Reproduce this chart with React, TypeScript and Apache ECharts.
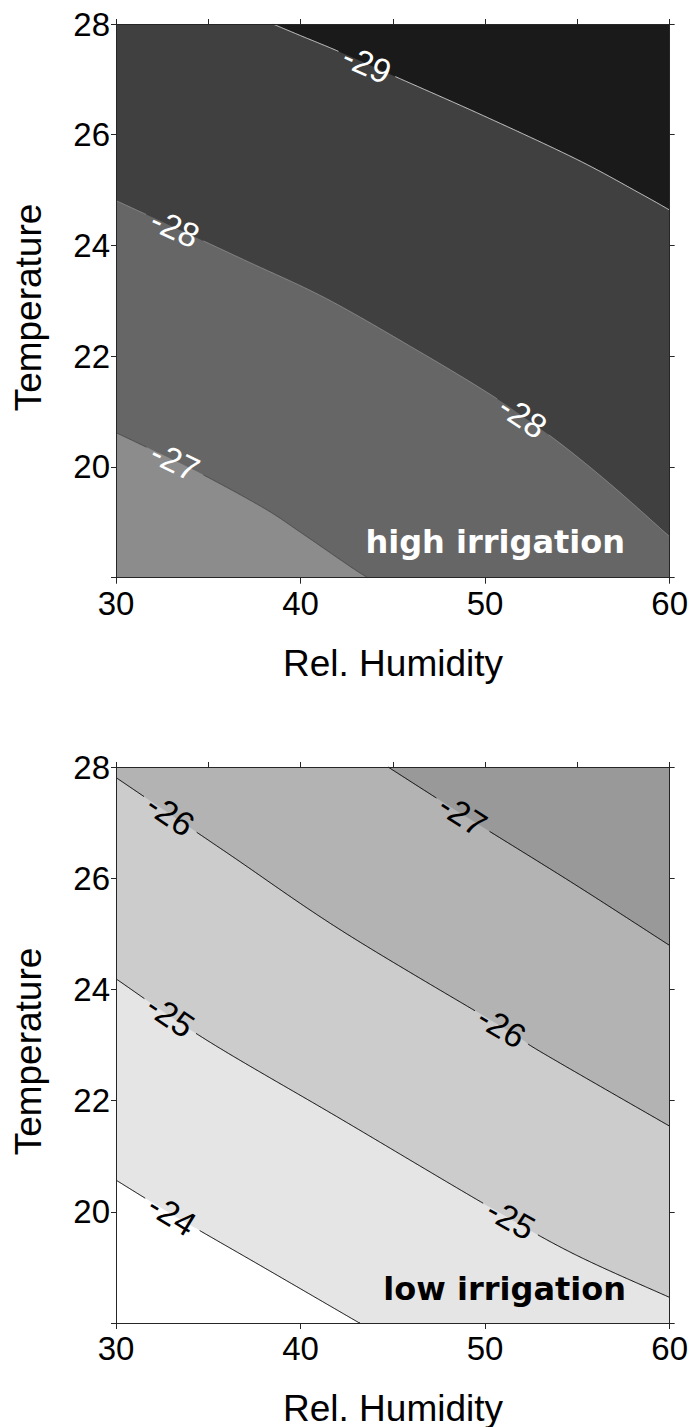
import { useEffect, useRef } from "react";
import * as echarts from "echarts";

type Pt = [number, number];

// Domain of both response surfaces
const HUM_MIN = 30;
const HUM_MAX = 60;
const TEMP_MIN = 18;
const TEMP_MAX = 28;

const humidityTickLabels = [30, 40, 50, 60];
const temperatureTickLabels = [20, 22, 24, 26, 28];

// High irrigation: contour lines as [rel. humidity, temperature]
const highLine27: Pt[] = [[30, 20.62], [31.7, 20.35], [34.6, 19.88], [38, 19.26], [40, 18.82], [42.7, 18.2], [43.64, 18]];
const highLine28: Pt[] = [[30, 24.81], [33.2, 24.32], [37, 23.73], [41.4, 23.04], [46.3, 22.11], [49.9, 21.39], [52.1, 20.9], [54.4, 20.34], [57.1, 19.6], [60, 18.74]];
const highLine29: Pt[] = [[38.5, 28], [40, 27.79], [42.1, 27.5], [45, 27.07], [50, 26.33], [55, 25.55], [58.4, 24.94], [60, 24.64]];
const highLevels = [-27, -28, -29];
const highLabelHumidity = [[33.2], [33.2, 52.05], [43.6]];
const highBandColors = ["#8c8c8c", "#666666", "#404040", "#1a1a1a"];
const highLineColors = ["#4a4a4a", "#8a8a8a", "#d2d2d2"];

// Low irrigation: contour lines as [rel. humidity, temperature]
const lowLine24: Pt[] = [[30, 20.57], [33.1, 19.94], [38, 19.0], [42.67, 18.1], [43.2, 18]];
const lowLine25: Pt[] = [[30, 24.19], [34.9, 23.09], [42.13, 21.68], [50.07, 20.12], [54.76, 19.25], [60, 18.46]];
const lowLine26: Pt[] = [[30, 27.81], [36, 26.46], [42.4, 25.02], [51.2, 23.27], [53, 22.88], [60, 21.54]];
const lowLine27: Pt[] = [[44.74, 28], [48.8, 27.14], [54.76, 25.91], [60, 24.79]];
const lowLevels = [-24, -25, -26, -27];
const lowLabelHumidity = [[33.05], [32.95, 51.4], [32.95, 50.9], [48.8]];
const lowBandColors = ["#ffffff", "#e5e5e5", "#cccccc", "#b3b3b3", "#999999"];
const lowLineColors = ["#000000", "#000000", "#000000", "#000000"];

const FONT = "'Liberation Sans', Arial, Helvetica, sans-serif";
const LABEL_SIZE = 34;
const GAP_RADIUS = 31;

// Polygon covering the part of the plot above/right of a contour line
function regionAbove(line: number[][], start: Pt, end: Pt, toPx: (p: Pt) => number[]): number[][] {
  const pts = line.slice();
  if (end[1] <= TEMP_MIN) pts.push(toPx([HUM_MAX, TEMP_MIN]));
  if (end[1] < TEMP_MAX) pts.push(toPx([HUM_MAX, TEMP_MAX]));
  if (start[0] <= HUM_MIN) pts.push(toPx([HUM_MIN, TEMP_MAX]));
  return pts;
}

// Catmull-Rom curve through the pixel vertices of a contour
function smoothPx(p: number[][], seg = 10): number[][] {
  if (p.length < 3) return p;
  const out: number[][] = [];
  for (let i = 0; i < p.length - 1; i++) {
    const p0 = p[i - 1] || p[i];
    const p1 = p[i];
    const p2 = p[i + 1];
    const p3 = p[i + 2] || p[i + 1];
    for (let k = 0; k < seg; k++) {
      const t = k / seg;
      const t2 = t * t;
      const t3 = t2 * t;
      const f = (j: number) =>
        0.5 *
        (2 * p1[j] +
          (-p0[j] + p2[j]) * t +
          (2 * p0[j] - 5 * p1[j] + 4 * p2[j] - p3[j]) * t2 +
          (-p0[j] + 3 * p1[j] - 3 * p2[j] + p3[j]) * t3);
      out.push([f(0), f(1)]);
    }
  }
  out.push(p[p.length - 1]);
  return out;
}

function placeOnLine(line: Pt[], h: number, toPx: (p: Pt) => number[]) {
  let i = 0;
  while (i < line.length - 2 && line[i + 1][0] < h) i++;
  const a = line[i];
  const b = line[i + 1];
  const t = (h - a[0]) / (b[0] - a[0]);
  const temp = a[1] + (b[1] - a[1]) * t;
  const c = toPx([h, temp]);
  const pa = toPx(a);
  const pb = toPx(b);
  const rot = -Math.atan2(pb[1] - pa[1], pb[0] - pa[0]);
  return { c, rot };
}

// Split a pixel polyline into runs that leave room for the contour labels
function cutAround(px: number[][], centers: number[][], r: number): number[][][] {
  const runs: number[][][] = [];
  let cur: number[][] = [];
  for (let i = 0; i < px.length - 1; i++) {
    const [x0, y0] = px[i];
    const [x1, y1] = px[i + 1];
    const n = Math.max(1, Math.ceil(Math.hypot(x1 - x0, y1 - y0)));
    for (let k = i === 0 ? 0 : 1; k <= n; k++) {
      const t = k / n;
      const x = x0 + (x1 - x0) * t;
      const y = y0 + (y1 - y0) * t;
      const inside = centers.some((c) => Math.hypot(x - c[0], y - c[1]) < r);
      if (inside) {
        if (cur.length > 1) runs.push(cur);
        cur = [];
      } else {
        cur.push([x, y]);
      }
    }
  }
  if (cur.length > 1) runs.push(cur);
  return runs;
}

function contourLayer(
  api: any,
  lines: Pt[][],
  levels: number[],
  bandColors: string[],
  lineColors: string[],
  labelHumidity: number[][],
  labelColor: string
) {
  const toPx = (p: Pt) => api.coord(p) as number[];
  const children: any[] = [];
  const frame: Pt[] = [[HUM_MIN, TEMP_MIN], [HUM_MAX, TEMP_MIN], [HUM_MAX, TEMP_MAX], [HUM_MIN, TEMP_MAX]];
  children.push({ type: "polygon", shape: { points: frame.map(toPx) }, style: { fill: bandColors[0] } });
  const curves = lines.map((line) => smoothPx(line.map(toPx)));
  lines.forEach((line, i) => {
    children.push({
      type: "polygon",
      shape: { points: regionAbove(curves[i], line[0], line[line.length - 1], toPx) },
      style: { fill: bandColors[i + 1] },
    });
  });
  lines.forEach((line, i) => {
    const labels = labelHumidity[i].map((h) => placeOnLine(line, h, toPx));
    const runs = cutAround(curves[i], labels.map((l) => l.c), GAP_RADIUS);
    runs.forEach((run) =>
      children.push({
        type: "polyline",
        shape: { points: run },
        style: { stroke: lineColors[i], lineWidth: 1, fill: null },
      })
    );
    labels.forEach((l) =>
      children.push({
        type: "text",
        x: l.c[0],
        y: l.c[1],
        rotation: l.rot,
        style: {
          text: String(levels[i]),
          fill: labelColor,
          fontSize: LABEL_SIZE,
          fontFamily: FONT,
          align: "center",
          verticalAlign: "middle",
        },
      })
    );
  });
  return { type: "group", children };
}

const AXIS_COLOR = "#262626";

function bottomX(gridIndex: number) {
  return {
    type: "value",
    gridIndex,
    position: "bottom",
    min: HUM_MIN,
    max: HUM_MAX,
    interval: 10,
    z: 10,
    axisLine: { show: true, lineStyle: { color: AXIS_COLOR, width: 1 } },
    axisTick: { show: true, inside: false, length: 6, lineStyle: { color: AXIS_COLOR } },
    axisLabel: {
      show: true,
      margin: 9,
      color: "#000",
      fontSize: 33,
      fontFamily: FONT,
      showMinLabel: true,
      showMaxLabel: true,
      formatter: (v: number) => (humidityTickLabels.includes(v) ? String(v) : ""),
    },
    splitLine: { show: false },
  };
}

function topX(gridIndex: number) {
  return {
    type: "value",
    gridIndex,
    position: "top",
    min: HUM_MIN,
    max: HUM_MAX,
    interval: 5,
    z: 10,
    axisLine: { show: true, lineStyle: { color: AXIS_COLOR, width: 1 } },
    axisTick: { show: true, inside: false, length: 5, lineStyle: { color: AXIS_COLOR } },
    axisLabel: { show: false },
    splitLine: { show: false },
  };
}

function leftY(gridIndex: number) {
  return {
    type: "value",
    gridIndex,
    position: "left",
    min: TEMP_MIN,
    max: TEMP_MAX,
    interval: 2,
    z: 10,
    axisLine: { show: true, lineStyle: { color: AXIS_COLOR, width: 1 } },
    axisTick: { show: true, inside: false, length: 5, lineStyle: { color: AXIS_COLOR } },
    axisLabel: {
      show: true,
      margin: 6,
      color: "#000",
      fontSize: 33,
      fontFamily: FONT,
      showMinLabel: true,
      showMaxLabel: true,
      formatter: (v: number) => (temperatureTickLabels.includes(v) ? String(v) : ""),
    },
    splitLine: { show: false },
  };
}

function rightY(gridIndex: number) {
  return {
    type: "value",
    gridIndex,
    position: "right",
    min: TEMP_MIN,
    max: TEMP_MAX,
    interval: 2,
    z: 10,
    axisLine: { show: true, lineStyle: { color: AXIS_COLOR, width: 1 } },
    axisTick: { show: true, inside: false, length: 5, lineStyle: { color: AXIS_COLOR } },
    axisLabel: { show: false },
    splitLine: { show: false },
  };
}

function titleText(text: string, x: number, y: number, rotation = 0) {
  return {
    type: "text",
    x,
    y,
    rotation,
    z: 100,
    style: {
      text,
      fill: "#000",
      fontSize: 37,
      fontFamily: FONT,
      align: "center",
      verticalAlign: "middle",
    },
  };
}

function panelTag(text: string, x: number, y: number, color: string) {
  return {
    type: "text",
    x,
    y,
    z: 100,
    style: {
      text,
      fill: color,
      fontSize: 32,
      fontWeight: "bold",
      fontFamily: "'DejaVu Sans', sans-serif",
      align: "right",
      verticalAlign: "middle",
    },
  };
}

export default function App() {
  const ref = useRef<HTMLDivElement>(null);

  useEffect(() => {
    if (!ref.current) return;
    const chart = echarts.init(ref.current, null, { renderer: "svg" });
    chart.setOption({
      animation: false,
      backgroundColor: "#ffffff",
      grid: [
        { left: 116, top: 24, width: 554, height: 553.7 },
        { left: 116, top: 767, width: 554, height: 556 },
      ],
      xAxis: [bottomX(0), topX(0), bottomX(1), topX(1)],
      yAxis: [leftY(0), rightY(0), leftY(1), rightY(1)],
      series: [
        {
          type: "custom",
          name: "high irrigation",
          xAxisIndex: 0,
          yAxisIndex: 0,
          silent: true,
          z: 2,
          data: [[HUM_MIN, TEMP_MIN]],
          renderItem: (_p: any, api: any) =>
            contourLayer(
              api,
              [highLine27, highLine28, highLine29],
              highLevels,
              highBandColors,
              highLineColors,
              highLabelHumidity,
              "#ffffff"
            ),
        },
        {
          type: "custom",
          name: "low irrigation",
          xAxisIndex: 2,
          yAxisIndex: 2,
          silent: true,
          z: 2,
          data: [[HUM_MIN, TEMP_MIN]],
          renderItem: (_p: any, api: any) =>
            contourLayer(
              api,
              [lowLine24, lowLine25, lowLine26, lowLine27],
              lowLevels,
              lowBandColors,
              lowLineColors,
              lowLabelHumidity,
              "#000000"
            ),
        },
      ],
      graphic: {
        elements: [
          titleText("Temperature", 28.5, 307.5, Math.PI / 2),
          titleText("Rel. Humidity", 393, 663),
          titleText("Temperature", 28.5, 1051.5, Math.PI / 2),
          titleText("Rel. Humidity", 393, 1408),
          panelTag("high irrigation", 625, 541.5, "#ffffff"),
          panelTag("low irrigation", 626, 1289, "#000000"),
        ],
      },
    });
    return () => chart.dispose();
  }, []);

  return (
    <div
      ref={ref}
      style={{ position: "absolute", left: 0, top: 0, width: 691, height: 1427 }}
    />
  );
}
